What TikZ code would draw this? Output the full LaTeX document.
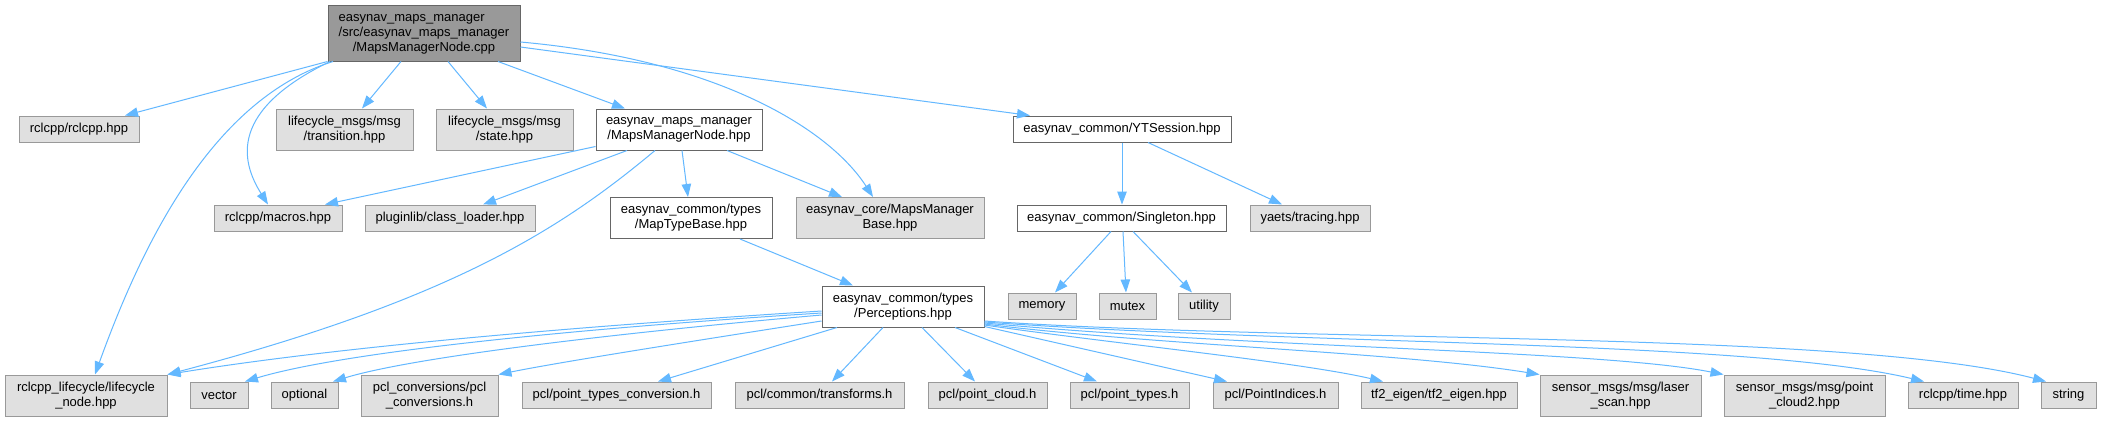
\documentclass[tikz,border=0pt]{standalone}
\usepackage{fontspec}
\setmainfont{Liberation Sans}
\usetikzlibrary{arrows.meta}
\definecolor{edgeblue}{HTML}{63B8FF}
\definecolor{grayfill}{HTML}{E0E0E0}
\definecolor{grayline}{HTML}{999999}
\definecolor{darkline}{HTML}{666666}
\definecolor{rootfill}{HTML}{999999}
\begin{document}
\begin{tikzpicture}[x=1pt,y=-1pt,
  box/.style={draw, rectangle, inner sep=0pt, align=center, font=\fontsize{13}{15}\selectfont, line width=1pt},
  ext/.style={box, fill=grayfill, draw=grayline},
  inc/.style={box, fill=white, draw=darkline},
  rootbox/.style={box, fill=rootfill, draw=darkline},
  sz/.style 2 args={minimum width=#1pt, minimum height=#2pt},
  edge/.style={draw=edgeblue, line width=1pt, -{Triangle[length=13pt,width=9.5pt]}}
]
\fill[white] (0,0) rectangle (2101,421);
\useasboundingbox (0,0) rectangle (2101,421);

% row 0
\node[rootbox, sz={192}{56}] (root) at (424,33) {\rlap{easynav\_maps\_manager}\phantom{/src/easynav\_maps\_manager}\\/src/easynav\_maps\_manager\\/MapsManagerNode.cpp};

% row 1
\node[ext, sz={120}{26}] (rcl) at (79,129) {rclcpp/rclcpp.hpp};
\node[ext, sz={137}{41}] (trans) at (344.5,129.5) {lifecycle\_msgs/msg\\/transition.hpp};
\node[ext, sz={137}{41}] (state) at (504.5,129.5) {lifecycle\_msgs/msg\\/state.hpp};
\node[inc, sz={166}{41}] (mmn) at (679,129.5) {easynav\_maps\_manager\\/MapsManagerNode.hpp};
\node[inc, sz={218}{26}] (yts) at (1122,129) {easynav\_common/YTSession.hpp};

% row 2
\node[ext, sz={128}{26}] (macros) at (278,218) {rclcpp/macros.hpp};
\node[ext, sz={170}{26}] (cload) at (450,218) {pluginlib/class\_loader.hpp};
\node[inc, sz={162}{41}] (mtb) at (691,218) {easynav\_common/types\\/MapTypeBase.hpp};
\node[ext, sz={188}{41}] (mmb) at (890,218) {easynav\_core/MapsManager\\Base.hpp};
\node[inc, sz={209}{26}] (single) at (1121.5,218) {easynav\_common/Singleton.hpp};
\node[ext, sz={120}{26}] (trace) at (1310,218) {yaets/tracing.hpp};

% row 3
\node[inc, sz={162}{41}] (perc) at (903,306.5) {easynav\_common/types\\/Perceptions.hpp};
\node[ext, sz={68}{26}] (memory) at (1042,306) {memory};
\node[ext, sz={57}{26}] (mutex) at (1127.5,306) {mutex};
\node[ext, sz={52}{26}] (utility) at (1204,306) {utility};

% row 4
\node[ext, sz={162}{41}] (lcn) at (86,395.5) {rclcpp\_lifecycle/lifecycle\\\_node.hpp};
\node[ext, sz={58}{26}] (vector) at (219,395) {vector};
\node[ext, sz={67}{26}] (optional) at (304.5,395) {optional};
\node[ext, sz={137}{41}] (pclc) at (429.5,395.5) {pcl\_conversions/pcl\\\_conversions.h};
\node[ext, sz={189}{26}] (ptc) at (616.5,395) {pcl/point\_types\_conversion.h};
\node[ext, sz={169}{26}] (trans2) at (819.5,395) {pcl/common/transforms.h};
\node[ext, sz={119}{26}] (pcloud) at (987.5,395) {pcl/point\_cloud.h};
\node[ext, sz={119}{26}] (ptypes) at (1129.5,395) {pcl/point\_types.h};
\node[ext, sz={125}{26}] (pidx) at (1275.5,395) {pcl/PointIndices.h};
\node[ext, sz={156}{26}] (tf2) at (1439,395) {tf2\_eigen/tf2\_eigen.hpp};
\node[ext, sz={161}{41}] (laser) at (1620.5,395.5) {sensor\_msgs/msg/laser\\\_scan.hpp};
\node[ext, sz={161}{41}] (pc2) at (1804.5,395.5) {sensor\_msgs/msg/point\\\_cloud2.hpp};
\node[ext, sz={110}{26}] (time) at (1963,395) {rclcpp/time.hpp};
\node[ext, sz={55}{26}] (string) at (2068.5,395) {string};

% edges from root
\draw[edge] (root.south west) -- ([xshift=46pt]rcl.north);
\draw[edge] ([xshift=-23pt]root.south) -- ([xshift=17.5pt]trans.north);
\draw[edge] ([xshift=24pt]root.south) -- ([xshift=-17.5pt]state.north);
\draw[edge] ([xshift=74pt]root.south) -- ([xshift=-54pt]mmn.north);
\draw[edge] ([yshift=-14pt]root.east) -- ([xshift=-92pt]yts.north);
\draw[edge] ([xshift=-94pt]root.south) .. controls (230,110) and (240,160) .. ([xshift=-10pt]macros.north);
\draw[edge] ([xshift=-91pt]root.south) .. controls (210,100) and (140,250) .. ([xshift=9pt]lcn.north);
\draw[edge] ([yshift=-9pt]root.east) .. controls (720,60) and (830,130) .. ([xshift=-17pt]mmb.north);

% edges from MapsManagerNode.hpp
\draw[edge] ([yshift=-17pt]mmn.west) -- ([xshift=47pt]macros.north);
\draw[edge] ([xshift=-52pt]mmn.south) -- ([xshift=33pt]cload.north);
\draw[edge] ([xshift=-24pt]mmn.south) .. controls (560,230) and (450,300) .. (lcn.north east);
\draw[edge] ([xshift=3pt]mmn.south) -- ([xshift=-3pt]mtb.north);
\draw[edge] ([xshift=48pt]mmn.south) -- ([xshift=-48pt]mmb.north);

% YTSession / Singleton
\draw[edge] (yts.south) -- (yts.south |- single.north);
\draw[edge] ([xshift=26pt]yts.south) -- ([xshift=-28pt]trace.north);
\draw[edge] ([xshift=-10.5pt]single.south) -- ([xshift=13pt]memory.north);
\draw[edge] ([xshift=1.5pt]single.south) -- ([xshift=-1.5pt]mutex.north);
\draw[edge] ([xshift=11.5pt]single.south) -- ([xshift=-12pt]utility.north);

% MapTypeBase -> Perceptions
\draw[edge] ([xshift=49pt]mtb.south) -- ([xshift=-50pt]perc.north);

% Perceptions fan
\draw[edge] ([yshift=-4.5pt]perc.west) .. controls (600,325) and (350,345) .. (lcn.north east);
\draw[edge] ([yshift=-6.5pt]perc.west) .. controls (600,327) and (350,350) .. ([xshift=26pt]vector.north);
\draw[edge] ([yshift=-8.5pt]perc.west) .. controls (650,330) and (420,355) .. ([xshift=28.5pt]optional.north);
\draw[edge] ([yshift=-14.5pt]perc.west) .. controls (700,340) and (560,362) .. (pclc.north east);
\draw[edge] ([xshift=-66pt]perc.south) -- ([xshift=41.5pt]ptc.north);
\draw[edge] ([xshift=-20pt]perc.south) -- ([xshift=12.5pt]trans2.north);
\draw[edge] ([xshift=19pt]perc.south) -- ([xshift=-12.5pt]pcloud.north);
\draw[edge] ([xshift=52pt]perc.south) -- ([xshift=-32.5pt]ptypes.north);
\draw[edge] ([yshift=1pt]perc.south east) -- ([xshift=-48.5pt]pidx.north);
\draw[edge] ([yshift=-18.5pt]perc.east) .. controls (1100,342) and (1300,362) .. ([xshift=-56pt]tf2.north);
\draw[edge] ([yshift=-17.5pt]perc.east) .. controls (1150,345) and (1400,352) .. (laser.north west);
\draw[edge] ([yshift=-16.5pt]perc.east) .. controls (1250,348) and (1600,350) .. (pc2.north west);
\draw[edge] ([yshift=-15.5pt]perc.east) .. controls (1300,345) and (1750,340) .. ([xshift=-39pt]time.north);
\draw[edge] ([yshift=-14.5pt]perc.east) .. controls (1300,343) and (1850,330) .. ([xshift=-22.5pt]string.north);
\end{tikzpicture}
\end{document}
